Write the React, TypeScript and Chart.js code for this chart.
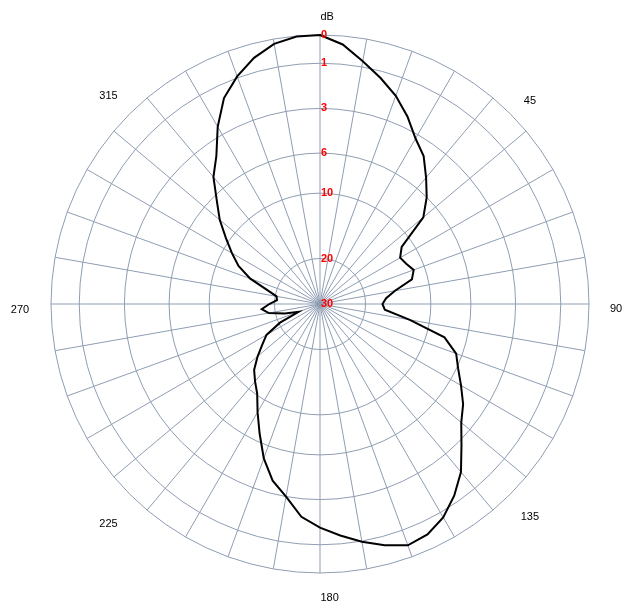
import { useEffect, useRef } from 'react';
import { Chart, registerables } from 'chart.js';

Chart.register(...registerables);

// Sampling step of the pattern, degrees (clockwise from top)
const ANGLE_STEP = 5;

// Attenuation in dB, one value every 5 degrees from 0 to 355
const attenuationDb = [
  0, 0.3, 0.8, 1.3, 1.85, 2.5, 3.3, 4.0, 5.05, 6.0, 7.6, 11.7,
  12.8, 12.4, 11.7, 12.4, 15.3, 16.8, 17.4, 17.0, 13.0, 8.2, 6.6, 5.9,
  5.2, 4.4, 3.75, 2.8, 1.95, 1.3, 0.8, 0.52, 0.43, 0.68, 0.98, 1.37,
  1.76, 2.2, 3.0, 3.85, 5.1, 6.8, 8.6, 10.2, 11.5, 12.7, 14.5, 16.2,
  17.5, 20.3, 25, 22, 19, 18, 19.2, 20.5, 20.3, 18.5, 15.6, 13.2,
  11.4, 9.6, 8.0, 6.5, 5.0, 4.0, 2.6, 1.6, 0.95, 0.5, 0.17, 0.02,
];

// Radial tick labels (dB) and the scale's radial fraction for each ring
const ringDb = [30, 20, 10, 6, 3, 1, 0];
const ringFraction = [0, 0.169, 0.412, 0.561, 0.727, 0.895, 1];

// Angle labels
const angleLabelText = ['dB', '45', '90', '135', '180', '225', '270', '315'];
const angleLabelDeg = [0, 45, 90, 135, 180, 225, 270, 315];

const GRID = '#8e9db2';

function dbToFraction(db: number): number {
  if (db >= ringDb[0]) return ringFraction[0];
  for (let i = 0; i < ringDb.length - 1; i++) {
    const hi = ringDb[i];
    const lo = ringDb[i + 1];
    if (db <= hi && db >= lo) {
      const t = (hi - db) / (hi - lo);
      return ringFraction[i] + t * (ringFraction[i + 1] - ringFraction[i]);
    }
  }
  return 1;
}

const labelsPlugin = {
  id: 'polarLabels',
  afterDatasetsDraw(chart: any) {
    const scale = chart.scales.r;
    const ctx = chart.ctx as CanvasRenderingContext2D;
    const R = scale.drawingArea;
    ctx.save();
    // radial tick labels
    ctx.font = 'bold 11px "Liberation Sans", Arial, sans-serif';
    ctx.fillStyle = '#ff0000';
    ctx.textAlign = 'left';
    ctx.textBaseline = 'middle';
    ringDb.forEach((db, i) => {
      const dist = scale.getDistanceFromCenterForValue(ringFraction[i]);
      ctx.fillText(String(db), scale.xCenter + 1, scale.yCenter - dist);
    });
    // angle labels
    ctx.font = '11px "Liberation Sans", Arial, sans-serif';
    ctx.fillStyle = '#000000';
    angleLabelDeg.forEach((deg, i) => {
      const idx = deg / ANGLE_STEP;
      const text = angleLabelText[i];
      if (deg === 0 || deg === 180) {
        const p = scale.getPointPosition(idx, R + (deg === 0 ? 18 : 25));
        ctx.textAlign = 'left';
        ctx.textBaseline = 'middle';
        ctx.fillText(text, p.x + 0.5, p.y);
      } else if (deg < 180) {
        const p = scale.getPointPosition(idx, R + 25);
        ctx.textAlign = 'center';
        ctx.textBaseline = 'middle';
        ctx.fillText(text, p.x + 2, p.y + 5);
      } else {
        const p = scale.getPointPosition(idx, R + 33);
        ctx.textAlign = 'center';
        ctx.textBaseline = 'middle';
        ctx.fillText(text, p.x + 2, p.y + 6);
      }
    });
    ctx.restore();
  },
};

export default function App() {
  const canvasRef = useRef<HTMLCanvasElement | null>(null);

  useEffect(() => {
    if (!canvasRef.current) return;
    const labels = attenuationDb.map((_, i) => String(i * ANGLE_STEP));
    const chart = new Chart(canvasRef.current, {
      type: 'radar',
      data: {
        labels,
        datasets: [
          {
            label: 'Pattern',
            data: attenuationDb.map(dbToFraction),
            borderColor: '#000000',
            borderWidth: 2,
            pointRadius: 0,
            pointHoverRadius: 0,
            fill: false,
            tension: 0,
          },
        ],
      },
      options: {
        animation: false,
        responsive: false,
        layout: { padding: { left: 40, right: 34, top: 27, bottom: 33 } },
        plugins: {
          legend: { display: false },
          tooltip: { enabled: false },
        },
        scales: {
          r: {
            min: 0,
            max: 1,
            startAngle: 0,
            afterBuildTicks: (scale: any) => {
              scale.ticks = ringFraction.map((v) => ({ value: v }));
            },
            ticks: { display: false },
            grid: { color: GRID, lineWidth: 1, circular: false },
            angleLines: {
              display: true,
              color: GRID,
              lineWidth: (c: any) => (c.index % 2 === 0 ? 1 : 0),
            },
            pointLabels: { display: false },
          },
        },
      } as any,
      plugins: [labelsPlugin],
    });
    return () => chart.destroy();
  }, []);

  return (
    <canvas
      ref={canvasRef}
      width={618}
      height={598}
      style={{ display: 'block', width: 618, height: 598 }}
    />
  );
}
